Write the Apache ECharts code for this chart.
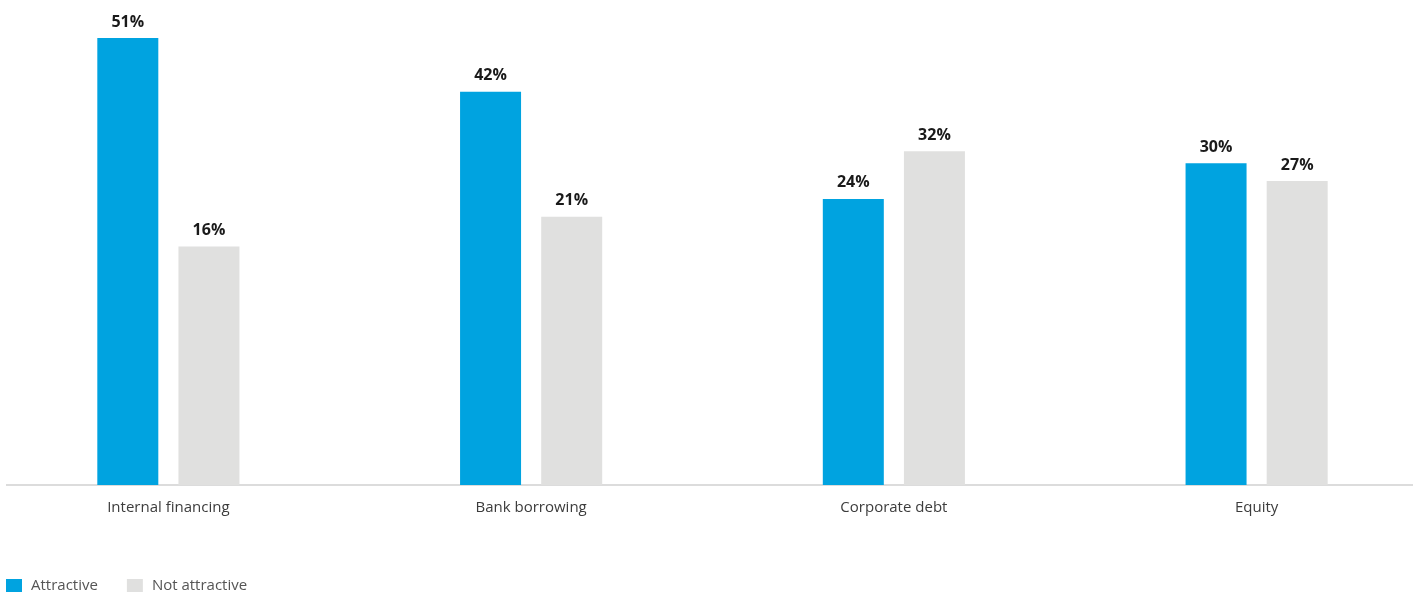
<!DOCTYPE html>
<html>
<head>
<meta charset="utf-8">
<style>
  html, body { margin: 0; padding: 0; background: #ffffff; overflow: hidden; }
  body { width: 1416px; height: 592px; position: relative; }
  /* the plot area is slightly wider than the page so the four groups sit evenly */
  #chart { position: absolute; left: -13px; top: 0; width: 1451px; height: 592px; }
</style>
<script src="https://cdn.jsdelivr.net/npm/echarts@6/dist/echarts.min.js"></script>
</head>
<body>
<div id="chart"></div>
<script>
// Financing sources and the share of respondents rating each one
const categories = ['Internal financing', 'Bank borrowing', 'Corporate debt', 'Equity'];
const attractive = [51, 42, 24, 30];
const notAttractive = [16, 21, 32, 27];
const seriesNames = ['Attractive', 'Not attractive'];

// Value axis range: bars rise from the bottom of the axis
const axisMin = -24;
const axisMax = 51;

const BLUE = '#00a3e0';
const GREY = '#e0e0df';
const FONT = '"Open Sans", "Noto Sans", sans-serif';
const OFFSET = 13; // horizontal shift of the chart container

const chart = echarts.init(document.getElementById('chart'));

const valueLabel = {
  show: true,
  position: 'top',
  distance: 8,
  formatter: p => p.value + '%',
  fontFamily: FONT,
  fontSize: 16,
  fontWeight: 'bold',
  color: '#1a1a1a'
};

chart.setOption({
  animation: false,
  backgroundColor: '#ffffff',
  grid: { left: 0, right: 0, top: 38, bottom: 107, containLabel: false },
  xAxis: {
    type: 'category',
    data: categories,
    axisLine: { show: false },
    axisTick: { show: false },
    axisLabel: {
      margin: 15,
      fontFamily: FONT,
      fontSize: 15,
      color: '#3c3c3c'
    }
  },
  yAxis: {
    type: 'value',
    min: axisMin,
    max: axisMax,
    startValue: axisMin,
    show: false,
    splitLine: { show: false }
  },
  legend: {
    left: 6 + OFFSET,
    top: 578,
    padding: 0,
    icon: 'rect',
    itemWidth: 16,
    itemHeight: 13,
    itemGap: 29,
    data: seriesNames,
    textStyle: {
      fontFamily: FONT,
      fontSize: 15,
      color: '#555555',
      padding: [0, 0, 0, 4]
    }
  },
  graphic: [{
    type: 'line',
    shape: { x1: 6 + OFFSET, y1: 485, x2: 1413 + OFFSET, y2: 485 },
    style: { stroke: '#dcdcdc', lineWidth: 2 },
    silent: true
  }],
  series: [
    {
      name: seriesNames[0],
      type: 'bar',
      data: attractive,
      barWidth: 61,
      barGap: '33%',
      itemStyle: { color: BLUE },
      label: valueLabel
    },
    {
      name: seriesNames[1],
      type: 'bar',
      data: notAttractive,
      barWidth: 61,
      barGap: '33%',
      itemStyle: { color: GREY },
      label: valueLabel
    }
  ]
});
</script>
</body>
</html>
